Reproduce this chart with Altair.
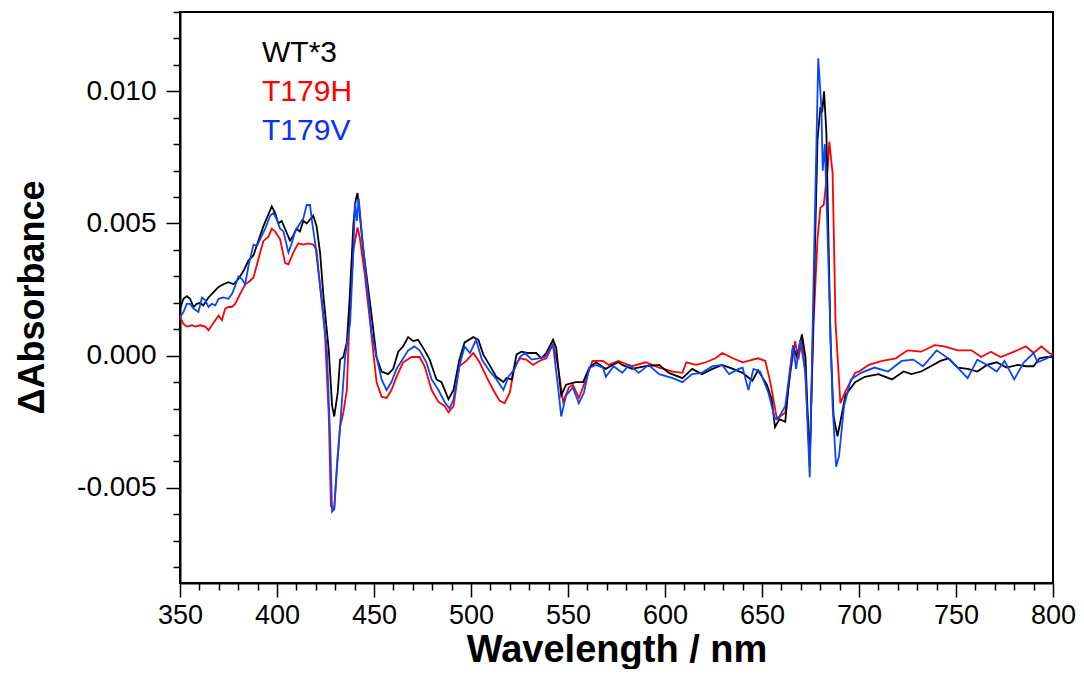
import altair as alt
import pandas as pd

# ---- data (absorbance values in units of 1e-3) ----
series_names = ["WT*3", "T179H", "T179V"]
series_colors = ["#000000", "#ff0000", "#0a45ff"]
label_colors = ["#000000", "#ff0000", "#0a30ff"]

wl_wt = [350, 351.8, 353.5, 355.2, 357, 358.6, 360.4, 362, 364.7, 367.3, 369.9, 372.4, 375, 377.6,
         380.1, 382.7, 385.3, 387.9, 390.4, 393, 395.6, 397.3, 399, 400.7, 402.4, 405, 406.7, 408.4,
         410.1, 411.8, 413.6, 415.3, 417, 418.7, 420.4, 422.2, 424, 426.7, 428.4, 429.5, 431.3, 432.5,
         434.2, 436, 437.4, 439.4, 440.6, 441.5, 442.6, 444.3, 446.9, 448.8, 451.3, 453.9, 457.3, 459.9,
         462.5, 465, 467.6, 470.2, 472.7, 476.1, 478.7, 482.2, 484.8, 488.4, 491, 494, 496.7, 501.2,
         503.8, 506.3, 509.5, 513, 516.7, 518.3, 521, 523.5, 526, 529.6, 533.6, 536.2, 538.8, 542.3,
         543.9, 546.5, 549, 554, 557.8, 561, 564.5, 569.5, 573, 576, 578, 583, 590, 597, 602, 609, 614,
         619, 624.5, 629.5, 635, 640, 645, 648, 652.5, 655, 656.7, 659, 662, 663.6, 666, 668, 670.6,
         672.4, 674.6, 676.6, 678.6, 680.1, 681, 682, 683.2, 685.3, 686.9, 688.9, 690.4, 693, 698, 703,
         710, 717, 723, 727, 732, 737, 742, 746, 751, 756, 761, 766, 771, 776, 782, 786, 790, 793, 797, 800]
abs_wt = [1.78, 2.15, 2.25, 2.15, 1.84, 1.96, 2.0, 1.9, 2.2, 2.4, 2.6, 2.7, 2.78, 2.7,
          2.9, 3.2, 3.6, 3.8, 4.35, 4.9, 5.35, 5.65, 5.4, 5.0, 5.1, 4.65, 4.35, 4.55,
          4.8, 4.7, 5.1, 5.0, 5.15, 5.3, 4.9, 3.9, 2.2, 0.2, -1.9, -2.3, -1.4, -0.15,
          -0.05, 0.5, 2.1, 5.0, 5.9, 6.15, 5.4, 4.1, 2.6, 1.5, -0.05, -0.6, -0.7, -0.5,
          0.15, 0.35, 0.7, 0.55, 0.6, 0.2, -0.15, -0.9, -1.0, -1.65, -1.3, -0.15, 0.5, 0.7,
          0.6, 0.05, -0.35, -0.8, -1.0, -0.85, -0.9, 0.05, 0.15, 0.1, 0.1, -0.1, 0.1, 0.6,
          0.3, -1.5, -1.1, -1.0, -1.0, -0.45, -0.25, -0.5, -0.35, -0.25, -0.35, -0.5, -0.4, -0.35, -0.65, -0.85, -0.5,
          -0.7, -0.5, -0.35, -0.5, -0.65, -0.95, -0.55, -1.1, -1.65, -2.7, -2.4, -2.5, -1.2, 0.35, -0.05, 0.8,
          -0.05, -4.2, 1.85, 8.15, 9.4, 9.2, 10.0, 8.4, 0.6, -2.3, -3.05, -2.5, -1.5, -1.0, -0.8,
          -0.7, -0.9, -0.6, -0.7, -0.6, -0.4, -0.2, -0.1, -0.45, -0.5, -0.6, -0.35, -0.25, -0.45, -0.35, -0.4, -0.4, -0.1, -0.05, -0.05]

wl_h = [350, 351.8, 353.5, 356.1, 357.8, 360.4, 363, 364.7, 366.4, 368.2, 369.9, 371.6, 373.3, 375,
        376.7, 378.4, 381, 383.6, 385.3, 387.9, 390.4, 393, 395.6, 397.3, 399, 401.6, 404.2, 405.9,
        408.4, 411, 413.6, 416.2, 418.7, 420.4, 422.2, 424.7, 426.7, 427.8, 429.5, 431, 432.5, 434.2,
        436, 437.7, 439.4, 441.5, 442.6, 445.2, 448.8, 451.3, 453.9, 456.5, 459, 461.6, 465, 469.4,
        473.5, 476.1, 479.7, 483.2, 486.4, 488.4, 491, 494, 497.6, 501.2, 504.4, 508, 511.5, 514.7,
        517.3, 520, 522.5, 525.2, 528.5, 532, 535.2, 538.8, 542.3, 544.8, 547.5, 550.5, 552.5, 555.6,
        559, 562.6, 568, 571, 576, 583, 590, 597, 604, 609, 611, 616, 621, 626, 629.5, 635, 640, 643,
        648, 651.7, 654.3, 657.7, 659.3, 662, 664.6, 667.1, 668.7, 670.6, 672.3, 674.6, 676.6, 678.6,
        680.1, 681.8, 683.9, 684.7, 686.4, 687.9, 690.4, 693, 698, 700, 705, 712, 719, 725, 732, 739,
        744, 751, 758, 763, 768, 773, 780, 786, 790, 794, 798, 800]
abs_h = [1.46, 1.2, 1.1, 1.15, 1.1, 1.15, 1.1, 0.96, 1.15, 1.34, 1.52, 1.34, 1.78, 1.84,
         1.84, 1.96, 2.34, 2.7, 2.78, 2.96, 3.65, 4.34, 4.5, 4.8, 4.7, 4.4, 3.5, 3.45,
         3.9, 4.25, 4.2, 4.25, 4.2, 4.0, 2.6, 0.85, -2.3, -5.7, -5.8, -4.0, -2.7, -2.15,
         -1.3, 2.1, 4.0, 4.85, 4.5, 3.1, 0.7, -1.0, -1.55, -1.6, -1.3, -0.8, -0.25, -0.05,
         -0.05, -0.4, -1.3, -1.75, -1.9, -2.15, -1.9, -0.4, -0.2, 0.1, -0.25, -0.8, -1.3, -1.7,
         -1.8, -1.4, -0.4, -0.1, -0.15, -0.35, -0.2, -0.1, 0.45, -0.4, -1.75, -1.2, -1.1, -1.6,
         -0.95, -0.2, -0.2, -0.35, -0.2, -0.4, -0.25, -0.45, -0.6, -0.65, -0.25, -0.35, -0.25, -0.1, 0.1, -0.1, -0.25, -0.2,
         -0.1, -0.2, -1.0, -2.4, -2.3, -2.15, -0.65, 0.55, -0.15, 0.6, -0.65, -3.9, 1.25, 4.4,
         5.6, 5.7, 7.1, 8.1, 6.9, 1.25, -1.8, -1.35, -0.65, -0.6, -0.35, -0.2, -0.1, 0.2, 0.15, 0.4,
         0.35, 0.2, 0.2, -0.05, 0.15, -0.05, 0.15, 0.35, 0.1, 0.35, 0.1, 0.05]

wl_v = [350, 351.8, 353.5, 355.2, 357, 359.5, 361.3, 363, 364.7, 366.4, 368.2, 369.9, 372.4, 375,
        376.9, 378.5, 380.1, 381.9, 383.6, 385.3, 387.9, 389.6, 391.3, 393.9, 396.5, 398.2, 399.9,
        401.6, 403.3, 405.9, 407.6, 409.3, 411.8, 413.6, 415.3, 417, 418.2, 419.6, 421.3, 423, 425.7,
        427.3, 428.4, 429.5, 431, 432.5, 435.1, 437.7, 439.4, 440.2, 441.2, 442.1, 443.7, 446.3, 448.8,
        451.3, 453.9, 456.5, 459, 461.6, 464.2, 467.6, 470.8, 473.5, 477, 479.7, 483.2, 486.4, 488.9,
        491, 494, 496.7, 499.5, 502.6, 505.6, 509.7, 513.2, 516.7, 519.3, 522.5, 525.2, 527.8, 531.3,
        534.9, 538, 542.3, 544.8, 546.5, 549, 552.5, 555.6, 558.2, 561, 564.5, 568, 569.5, 573.5, 578,
        581.5, 586.5, 591.5, 597, 604, 609, 614, 619, 624.5, 629.5, 633, 638, 640, 643, 645.6, 649,
        653.3, 656.7, 659, 662, 663.6, 666, 667.6, 669.7, 672.4, 674.6, 677, 679, 680.6, 681.3, 682.4,
        684.4, 686.4, 688.2, 689.7, 692.3, 695.8, 701, 708, 715, 722, 728, 733, 740, 747, 756, 761,
        766, 771, 775, 780, 785, 790, 792, 797, 800]
abs_v = [1.46, 1.65, 1.96, 1.96, 1.78, 1.65, 2.2, 2.1, 1.84, 1.96, 1.9, 2.15, 2.2, 2.15,
         2.35, 2.65, 3.0, 2.9, 2.7, 3.4, 4.2, 4.15, 4.4, 4.8, 5.3, 5.4, 5.15,
         4.8, 4.7, 3.9, 4.25, 4.7, 5.0, 5.2, 5.7, 5.7, 5.0, 4.3, 3.2, 2.2, 0.2,
         -2.9, -5.9, -5.8, -4.2, -2.7, -0.05, 1.25, 4.0, 5.8, 5.1, 5.95, 4.65, 2.75, 0.85,
         -0.05, -0.9, -1.3, -1.0, -0.5, -0.2, 0.2, 0.35, 0.2, -0.25, -0.9, -1.3, -1.75, -2.0,
         -1.65, -0.4, 0.35, 0.1, 0.6, -0.15, -0.6, -0.9, -1.3, -0.8, -0.5, -0.05, 0.1, -0.15,
         -0.1, -0.05, 0.4, -1.15, -2.3, -1.5, -1.2, -1.8, -1.4, -0.45, -0.35, -0.45, -0.8, -0.4, -0.65,
         -0.35, -0.65, -0.35, -0.7, -0.85, -1.0, -0.7, -0.65, -0.4, -0.35, -0.7, -0.5, -0.45, -1.3, -0.5, -0.6,
         -1.4, -2.4, -2.3, -1.9, -1.0, 0.4, -0.5, 0.6, -0.65, -4.6, 4.4, 11.25, 9.4, 7.0, 8.0,
         3.1, -1.9, -4.2, -3.8, -1.9, -0.9, -0.65, -0.45, -0.6, -0.2, -0.15, -0.4, 0.2, -0.15, -0.85, -0.15,
         -0.35, -0.6, -0.2, -0.9, -0.25, 0.1, -0.25, -0.1, 0.05]

# axis ticks
x_ticks = list(range(350, 801, 10))
y_ticks_milli = list(range(-8, 14))

# ---- build table (convert from 1e-3 units) ----
frames = []
for name, wl, ab in [("T179H", wl_h, abs_h), ("WT*3", wl_wt, abs_wt), ("T179V", wl_v, abs_v)]:
    frames.append(pd.DataFrame({"wl": wl, "absorb": [a / 1000 for a in ab], "series": name}))
df = pd.concat(frames, ignore_index=True)
df["order"] = range(len(df))

FONT = "Liberation Sans"

x_axis = alt.Axis(
    values=x_ticks,
    labelExpr="datum.value % 50 === 0 ? datum.label : ''",
    tickSize={"condition": {"test": "datum.value % 50 === 0", "value": 14}, "value": 7},
    tickWidth=1.5, tickColor="black", domainColor="black", domainWidth=2,
    labelFont=FONT, labelFontSize=27, labelColor="black", labelPadding=5,
    labelFlush=False, labelOverlap=False, grid=False,
    title="Wavelength / nm", titleFont=FONT, titleFontSize=38, titleFontWeight="bold",
    titleColor="black", titleBaseline="alphabetic", titleY=78,
)
y_axis = alt.Axis(
    values=[v / 1000 for v in y_ticks_milli],
    labelExpr=("abs(round(datum.value*1000)) % 5 === 0 ? "
               "(datum.value < 0 ? '-' + format(-datum.value, '.3f') : format(datum.value, '.3f')) : ''"),
    tickSize={"condition": {"test": "abs(round(datum.value*1000)) % 5 === 0", "value": 14}, "value": 7},
    tickWidth=1.5, tickColor="black", domainColor="black", domainWidth=2,
    labelFont=FONT, labelFontSize=28, labelColor="black", labelPadding=10,
    labelFlush=False, labelOverlap=False, grid=False,
    title="ΔAbsorbance", titleFont=FONT, titleFontSize=36, titleFontWeight="bold",
    titleColor="black", titleBaseline="alphabetic", titleX=-137, titleY=285, titleAngle=270,
)

lines = alt.Chart(df).mark_line(strokeWidth=1.8).encode(
    x=alt.X("wl:Q", scale=alt.Scale(domain=[350, 800], nice=False, zero=False), axis=x_axis),
    y=alt.Y("absorb:Q", scale=alt.Scale(domain=[-0.0086, 0.013], nice=False, zero=False), axis=y_axis),
    color=alt.Color("series:N", scale=alt.Scale(domain=series_names, range=series_colors), legend=None),
    detail="series:N",
    order="order:Q",
)

labels = []
for i, (name, col) in enumerate(zip(series_names, label_colors)):
    labels.append(
        alt.Chart(pd.DataFrame({"label": [name]})).mark_text(
            font=FONT, fontSize=30, align="left", baseline="alphabetic", color=col
        ).encode(text="label:N", x=alt.value(82), y=alt.value(50 + 39 * i))
    )

chart = alt.layer(lines, *labels).properties(
    width=873, height=571,
    padding={"left": 172, "top": 4, "right": 23, "bottom": 86},
    autosize=alt.AutoSizeParams(type="none"),
).configure_view(stroke="black", strokeWidth=2)

chart.save("out.html", embed_options={"renderer": "svg", "actions": False})
